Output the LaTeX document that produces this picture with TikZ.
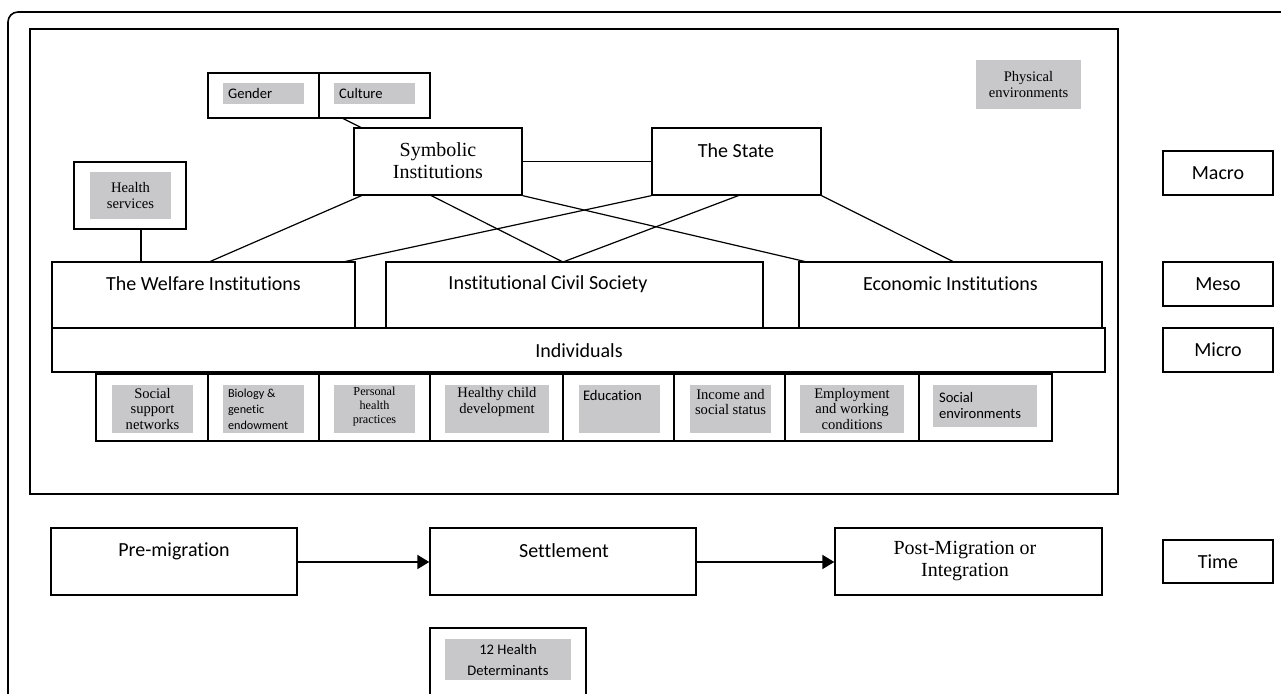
\documentclass[tikz,border=0pt]{standalone}
\usepackage{fontspec}
\setmainfont{Carlito}[RawFeature={-liga}]
\newfontfamily\tnr{Liberation Serif}
\usetikzlibrary{fit,arrows.meta}
\definecolor{cellgrey}{RGB}{200,200,202}
\tikzset{
  frame/.style={draw, line width=0.7pt, inner sep=0pt},
  shadebox/.style={fill=cellgrey, inner sep=0pt},
  link/.style={line width=0.6pt},
  flow/.style={line width=1pt, -{Triangle[length=6pt,width=7pt]}},
  big/.style={font=\fontsize{10}{12}\selectfont},
  bigserif/.style={font=\tnr\fontsize{10}{11}\selectfont, align=center},
  small/.style={font=\fontsize{7.3}{8}\selectfont, align=left},
  smallserif/.style={font=\tnr\fontsize{7.3}{7.8}\selectfont, align=center},
  tiny/.style={font=\fontsize{6.1}{8}\selectfont, align=left},
  tinyserif/.style={font=\tnr\fontsize{6.1}{7}\selectfont, align=center},
}
\begin{document}
\begin{tikzpicture}[x=0.5pt,y=-0.5pt]
\useasboundingbox (0,0) rectangle (1281,694);
\begin{scope}
\clip (0,0) rectangle (1281,694);
\draw[line width=0.8pt, rounded corners=5pt] (8,720) -- (8,12) -- (1320,12);
\node[frame, fit={(430,628) (586,720)}] (twelve) {};
\end{scope}

% levels frame
\node[frame, fit={(30,29) (1118,494)}] (world) {};

% macro level
\node[frame, fit={(208,73) (319,118)}] (gender) {};
\node[frame, fit={(319,73) (430,118)}] (culture) {};
\node[shadebox, fit={(223,83) (304,104)}] (gendergrey) {};
\node[shadebox, fit={(334,83) (415,104)}] (culturegrey) {};
\node[small, anchor=west] (gendertext) at (221,93.5) {Gender};
\node[small, anchor=west] (culturetext) at (332,93.5) {Culture};

\node[frame, fit={(354,128) (522,195)}] (symbolic) {};
\node[bigserif] (symbolictext) at (438,161) {Symbolic\\Institutions};
\node[frame, fit={(652,128) (821,195)}] (state) {};
\node[big] (statetext) at (736,151) {The State};

\node[shadebox, fit={(976,60) (1081,109)}] (physical) {};
\node[smallserif] (physicaltext) at (1028.5,84.5) {Physical\\environments};

\node[frame, fit={(74,162) (186,229)}] (health) {};
\node[shadebox, fit={(90,172) (171,219)}] (healthgrey) {};
\node[smallserif] (healthtext) at (130.5,195.5) {Health\\services};

% meso level
\node[frame, fit={(52,262) (355,328)}] (welfare) {};
\node[big] (welfaretext) at (203.5,284) {The Welfare Institutions};
\node[frame, fit={(386,262) (763,328)}] (civil) {};
\node[big] (civiltext) at (548,284) {Institutional Civil Society};
\node[frame, fit={(799,262) (1102,328)}] (economic) {};
\node[big] (economictext) at (950.5,284) {Economic Institutions};

% micro level
\node[draw, line width=1.3pt, inner sep=0pt, fit={(52,328) (1105,372)}] (individuals) {};
\node[big] (individualstext) at (579,351) {Individuals};

% determinants
\foreach \a/\b [count=\i] in {96/208,208/319,319/430,430/563,563/674,674/785,785/919,919/1052}{
\node[frame, fit={(\a,374) (\b,441)}] (cell\i) {};
}
\foreach \a/\b [count=\i] in {112/193,223/304,334/415,445/549,579/660,690/771,800/904}{
\node[shadebox, fit={(\a,385) (\b,433)}] (grey\i) {};
}
\node[shadebox, fit={(933,385) (1037,427)}] (grey8) {};
\node[smallserif] (det1) at (152.5,409) {Social\\support\\networks};
\node[tiny, anchor=west] (det2) at (221,409) {Biology \&\\genetic\\endowment};
\node[tinyserif] (det3) at (374.5,407) {Personal\\health\\practices};
\node[smallserif] (det4) at (497,402) {Healthy child\\development};
\node[small, anchor=west] (det5) at (576,395) {Education};
\node[smallserif] (det6) at (730.5,402) {Income and\\social status};
\node[smallserif] (det7) at (852,409) {Employment\\and working\\conditions};
\node[small, anchor=west] (det8) at (932,405) {Social\\environments};

% scale labels
\node[frame, fit={(1163,151) (1273,195)}] (macro) {};
\node[big] at (macro) {Macro};
\node[frame, fit={(1163,262) (1273,306)}] (meso) {};
\node[big] at (meso) {Meso};
\node[frame, fit={(1163,328) (1273,372)}] (micro) {};
\node[big] at (micro) {Micro};
\node[frame, fit={(1163,540) (1273,583)}] (time) {};
\node[big] at (time) {Time};

% time line
\node[frame, fit={(51,528) (297,595)}] (pre) {};
\node[big] (pretext) at (174,551) {Pre-migration};
\node[frame, fit={(430,528) (696,595)}] (settle) {};
\node[big] (settletext) at (564,551) {Settlement};
\node[frame, fit={(835,528) (1102,595)}] (post) {};
\node[bigserif] (posttext) at (965,561) {Post-Migration or\\Integration};
\draw[flow] (pre.east |- 0,562) -- (settle.west |- 0,562);
\draw[flow] (settle.east |- 0,562) -- (post.west |- 0,562);

\node[shadebox, fit={(445,639) (571,680)}] (twelvegrey) {};
\node[small, align=center, font=\fontsize{7.3}{10.5}\selectfont] (twelvetext) at (508,659.5) {12 Health\\Determinants};

% links
\coordinate (cfoot) at (342,118);
\draw[link] (cfoot) -- (362,128);
\draw[link] (symbolic.east) -- (state.west);
\draw[link] (141,229) -- (141,262);
\draw[link] (363,195) -- (209,262);
\draw[link] (430,195) -- (563,262);
\draw[link] (symbolic.south east) -- (807,262);
\draw[link] (state.south west) -- (343,262);
\draw[link] (740,195) -- (563,262);
\draw[link] (state.south east) -- (954,262);
\end{tikzpicture}
\end{document}
